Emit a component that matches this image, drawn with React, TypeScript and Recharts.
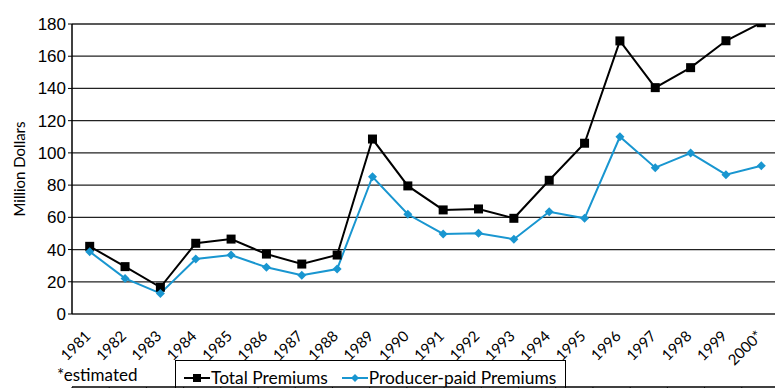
import React from "react";
import { LineChart, Line, XAxis, YAxis, CartesianGrid } from "recharts";

// values (million dollars)
const years = [
  "1981", "1982", "1983", "1984", "1985", "1986", "1987", "1988", "1989", "1990",
  "1991", "1992", "1993", "1994", "1995", "1996", "1997", "1998", "1999", "2000*",
];
const totalPremiums = [
  42, 29.4, 16.6, 43.9, 46.5, 37.2, 31, 36.6, 108.6, 79.5,
  64.6, 65.2, 59.4, 83, 106, 169.5, 140.5, 152.9, 169.6, 180.8,
];
const producerPaid = [
  38.7, 22.1, 12.8, 34.1, 36.6, 29, 24, 27.9, 85.2, 61.9,
  49.7, 50.1, 46.4, 63.5, 59.4, 110, 90.8, 99.9, 86.5, 92,
];
const yTicks = [0, 20, 40, 60, 80, 100, 120, 140, 160, 180];
const bandEdges = years.map((_, i) => i).concat(years.length);

const BLUE = "#1996d0";

const data = years.map((year, i) => ({
  year,
  total: totalPremiums[i],
  producer: producerPaid[i],
}));

const series = [
  { key: "total", name: "Total Premiums", color: "#000000", marker: "square" },
  { key: "producer", name: "Producer-paid Premiums", color: BLUE, marker: "diamond" },
];

const SquareDot = (props: any) => {
  const { cx, cy } = props;
  if (cx == null || cy == null) return null;
  return <rect x={cx - 4.5} y={cy - 4.5} width={9} height={9} fill="#000" />;
};

const DiamondDot = (props: any) => {
  const { cx, cy } = props;
  if (cx == null || cy == null) return null;
  const r = 4.5;
  return (
    <polygon
      points={`${cx},${cy - r} ${cx + r},${cy} ${cx},${cy + r} ${cx - r},${cy}`}
      fill={BLUE}
    />
  );
};

const YearTick = (props: any) => {
  const { x, y, payload } = props;
  const ax = x + 2;
  const ay = y + 15;
  return (
    <text
      x={ax}
      y={ay}
      transform={`rotate(-45 ${ax} ${ay})`}
      textAnchor="end"
      fontFamily="Lato, 'Open Sans', sans-serif"
      fontSize={15}
      fill="#000"
    >
      {payload.value}
    </text>
  );
};

const LegendIcon = ({ color, marker }: { color: string; marker: string }) => (
  <svg width={26} height={12} style={{ display: "inline-block", verticalAlign: "middle" }}>
    <line x1={0} y1={6} x2={26} y2={6} stroke={color} strokeWidth={2} />
    {marker === "square" ? (
      <rect x={9} y={2} width={8} height={8} fill={color} />
    ) : (
      <polygon points="13,2 17,6 13,10 9,6" fill={color} />
    )}
  </svg>
);

export default function App() {
  return (
    <div
      style={{
        position: "absolute",
        left: 0,
        top: 0,
        width: 775,
        height: 388,
        overflow: "hidden",
        background: "#fff",
      }}
    >
      <LineChart
        width={779}
        height={388}
        data={data}
        margin={{ top: 24, right: 0, left: 0, bottom: 0 }}
      >
        <CartesianGrid vertical={false} stroke="#222" strokeWidth={1.3} />
        <XAxis
          xAxisId="edge"
          type="number"
          domain={[0, years.length]}
          ticks={bandEdges}
          height={1}
          tickSize={4}
          tickFormatter={() => ""}
          axisLine={{ stroke: "#000", strokeWidth: 1.5 }}
          tickLine={{ stroke: "#000" }}
          allowDataOverflow
        />
        <XAxis
          xAxisId="cat"
          dataKey="year"
          interval={0}
          height={73}
          padding={{ left: 17.7, right: 17.7 }}
          axisLine={false}
          tickLine={false}
          tick={<YearTick />}
        />
        <YAxis
          domain={[0, 180]}
          ticks={yTicks}
          width={72}
          allowDataOverflow
          tickSize={4}
          axisLine={{ stroke: "#000", strokeWidth: 1.5 }}
          tickLine={{ stroke: "#000" }}
          tick={{ fill: "#000", fontSize: 17, fontFamily: "'Liberation Sans', Arial, sans-serif" }}
          label={{
            content: (p: any) => {
              const vb = p.viewBox;
              const cx = 19;
              const cy = vb.y + vb.height / 2;
              return (
                <text
                  x={cx}
                  y={cy}
                  transform={`rotate(-90 ${cx} ${cy})`}
                  textAnchor="middle"
                  dominantBaseline="central"
                  fontFamily="Lato, 'Open Sans', sans-serif"
                  fontSize={15}
                  fill="#000"
                >
                  Million Dollars
                </text>
              );
            },
          }}
        />
        <Line
          xAxisId="cat"
          dataKey="total"
          name="Total Premiums"
          type="linear"
          stroke="#000"
          strokeWidth={2}
          dot={<SquareDot />}
          isAnimationActive={false}
        />
        <Line
          xAxisId="cat"
          dataKey="producer"
          name="Producer-paid Premiums"
          type="linear"
          stroke={BLUE}
          strokeWidth={2}
          dot={<DiamondDot />}
          isAnimationActive={false}
        />
      </LineChart>

      <div
        style={{
          position: "absolute",
          left: 57,
          top: 364,
          fontFamily: "Lato, 'Open Sans', sans-serif",
          fontSize: 17,
          color: "#000",
        }}
      >
        *estimated
      </div>

      <div
        style={{
          position: "absolute",
          left: 175,
          top: 360,
          width: 391,
          height: 40,
          border: "1px solid #000",
          boxSizing: "border-box",
          fontFamily: "Lato, 'Open Sans', sans-serif",
          fontSize: 17.4,
          color: "#000",
          padding: "4px 0 0 8px",
          whiteSpace: "nowrap",
        }}
      >
        {series.map((s) => (
          <span key={s.key} style={{ marginRight: 14 }}>
            <LegendIcon color={s.color} marker={s.marker} />
            <span style={{ verticalAlign: "middle", marginLeft: 1 }}>{s.name}</span>
          </span>
        ))}
      </div>
    </div>
  );
}
